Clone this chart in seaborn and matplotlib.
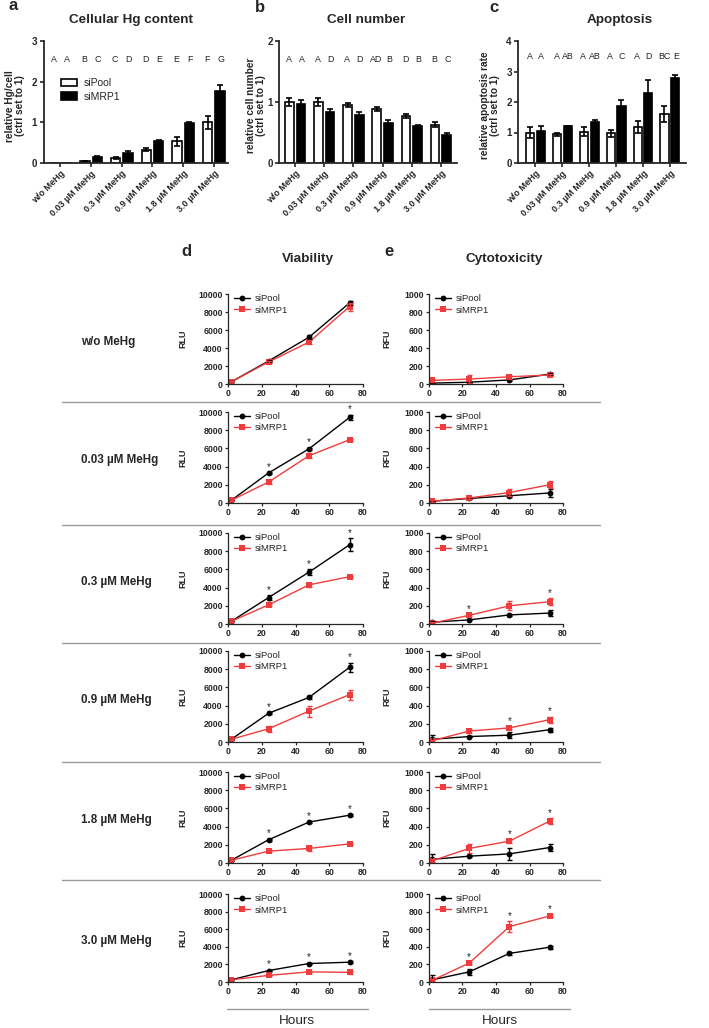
import numpy as np
import pandas as pd
import matplotlib
matplotlib.use('Agg')
import matplotlib.pyplot as plt
import seaborn as sns
from matplotlib.lines import Line2D

sns.set_theme(style='ticks')
plt.rcParams['font.family'] = ['Liberation Sans', 'DejaVu Sans']

W, H = 709, 1028
RED = '#f03c3c'

# ---------------- data: bar panels ----------------
treatments = ['w/o MeHg', '0.03 µM MeHg', '0.3 µM MeHg', '0.9 µM MeHg', '1.8 µM MeHg', '3.0 µM MeHg']
groups = ['siPool', 'siMRP1']

hg_pool = [0.0, 0.05, 0.12, 0.33, 0.53, 1.00]
hg_pool_err = [0.0, 0.01, 0.02, 0.03, 0.10, 0.16]
hg_mrp = [0.0, 0.14, 0.25, 0.54, 0.98, 1.78]
hg_mrp_err = [0.0, 0.02, 0.05, 0.03, 0.02, 0.13]
hg_letters_pool = ['A', 'B', 'C', 'D', 'E', 'F']
hg_letters_mrp = ['A', 'C', 'D', 'E', 'F', 'G']

cn_pool = [1.00, 1.00, 0.95, 0.89, 0.77, 0.63]
cn_pool_err = [0.07, 0.07, 0.03, 0.03, 0.03, 0.04]
cn_mrp = [0.97, 0.83, 0.79, 0.66, 0.60, 0.46]
cn_mrp_err = [0.07, 0.06, 0.04, 0.04, 0.03, 0.04]
cn_letters_pool = ['A', 'A', 'A', 'AD', 'D', 'B']
cn_letters_mrp = ['A', 'D', 'D', 'B', 'B', 'C']

ap_pool = [1.00, 0.94, 1.03, 0.97, 1.19, 1.61]
ap_pool_err = [0.17, 0.06, 0.14, 0.12, 0.20, 0.26]
ap_mrp = [1.05, 1.20, 1.36, 1.86, 2.30, 2.78]
ap_mrp_err = [0.15, 0.02, 0.05, 0.22, 0.42, 0.09]
ap_letters_pool = ['A', 'A', 'A', 'A', 'A', 'BC']
ap_letters_mrp = ['A', 'AB', 'AB', 'C', 'D', 'E']

# ---------------- data: time courses ----------------
hours = [2, 24, 48, 72]

via_pool = [[250, 2550, 5200, 9000], [300, 3300, 5950, 9400], [300, 2900, 5700, 8700],
            [300, 3150, 4900, 8200], [300, 2550, 4500, 5250], [250, 1300, 2100, 2250]]
via_pool_err = [[50, 100, 250, 200], [50, 100, 100, 300], [50, 250, 300, 700],
                [50, 100, 200, 500], [50, 100, 100, 100], [50, 100, 100, 100]]
via_mrp = [[250, 2450, 4650, 8600], [300, 2300, 5200, 6950], [300, 2100, 4300, 5200],
           [300, 1450, 3400, 5200], [300, 1300, 1600, 2100], [250, 750, 1150, 1100]]
via_mrp_err = [[50, 150, 200, 450], [50, 250, 300, 100], [50, 100, 200, 100],
               [50, 300, 600, 550], [50, 100, 300, 100], [50, 80, 100, 150]]
via_stars = [[0, 0, 0, 0], [0, 1, 1, 1], [0, 1, 1, 1], [0, 1, 0, 1], [0, 1, 1, 1], [0, 1, 1, 1]]

cyt_pool = [[10, 20, 45, 110], [20, 50, 80, 110], [20, 45, 100, 120],
            [30, 60, 75, 135], [40, 75, 100, 170], [25, 115, 325, 395]]
cyt_pool_err = [[5, 5, 10, 10], [5, 5, 10, 40], [15, 5, 10, 30],
                [50, 5, 30, 20], [60, 10, 65, 35], [50, 30, 20, 15]]
cyt_mrp = [[40, 55, 80, 100], [20, 55, 115, 200], [10, 95, 200, 245],
           [15, 120, 155, 245], [25, 160, 240, 460], [20, 215, 630, 750]]
cyt_mrp_err = [[15, 40, 20, 15], [10, 15, 40, 40], [10, 10, 50, 40],
               [10, 20, 15, 35], [15, 45, 15, 30], [15, 10, 60, 15]]
cyt_stars = [[0, 0, 0, 0], [0, 0, 0, 0], [0, 1, 0, 1], [0, 0, 1, 1], [0, 0, 1, 1], [0, 1, 1, 1]]

row_labels = ['w/o MeHg', '0.03 µM MeHg', '0.3 µM MeHg', '0.9 µM MeHg', '1.8 µM MeHg', '3.0 µM MeHg']

fig = plt.figure(figsize=(W / 100, H / 100), dpi=100)


def pax(l, t, r, b):
    return fig.add_axes([l / W, 1 - b / H, (r - l) / W, (b - t) / H])


def ftext(x, y, s, **kw):
    fig.text(x / W, 1 - y / H, s, **kw)


def hline(x0, x1, y, color='#9a9a9a', lw=1.0):
    fig.add_artist(Line2D([x0 / W, x1 / W], [1 - y / H, 1 - y / H], color=color, lw=lw,
                          transform=fig.transFigure))


def bar_panel(ax, pool, pool_err, mrp, mrp_err, ymax, lp, lm, ly, ylabel, xlim, ylab_x, legend):
    df = pd.DataFrame({'treatment': treatments * 2,
                       'group': ['siPool'] * 6 + ['siMRP1'] * 6,
                       'value': pool + mrp})
    sns.barplot(data=df, x='treatment', y='value', hue='group', hue_order=groups,
                palette={'siPool': 'white', 'siMRP1': 'black'}, edgecolor='black',
                linewidth=1.2, gap=0.25, errorbar=None, legend=legend, ax=ax)
    x = np.arange(6)
    for xs, vals, errs in [(x - 0.2, pool, pool_err), (x + 0.2, mrp, mrp_err)]:
        for xi, v, e in zip(xs, vals, errs):
            if e > 0:
                ax.errorbar(xi, v, yerr=e, fmt='none', ecolor='black', elinewidth=1.2,
                            capsize=2.2, capthick=1.2)
    for i in range(6):
        ax.text(i - 0.22, ly, lp[i], ha='center', va='center', fontsize=6.4, color='#222222')
        ax.text(i + 0.22, ly, lm[i], ha='center', va='center', fontsize=6.4, color='#222222')
    ax.set_xlim(*xlim)
    ax.set_ylim(0, ymax)
    ax.set_yticks(range(0, ymax + 1))
    ax.set_xlabel('')
    ax.set_ylabel(ylabel, fontsize=7.3, fontweight='bold', linespacing=1.0)
    ax.yaxis.set_label_coords(ylab_x, 0.47)
    ax.set_xticks(range(6))
    ax.set_xticklabels(treatments, rotation=45, ha='right', rotation_mode='anchor',
                       fontsize=6.5, fontweight='bold')
    for lab in ax.get_yticklabels():
        lab.set_fontweight('bold')
        lab.set_fontsize(7)
    ax.tick_params(axis='both', length=3, width=1.2, pad=1.5)
    for s in ['top', 'right']:
        ax.spines[s].set_visible(False)
    for s in ['left', 'bottom']:
        ax.spines[s].set_linewidth(1.3)
    if legend:
        h, l = ax.get_legend_handles_labels()
        ax.legend(h, l, loc='upper left', bbox_to_anchor=(0.07, 0.73), frameon=False,
                  fontsize=7.5, handlelength=1.6, handleheight=0.8, labelspacing=0.35,
                  borderaxespad=0, handletextpad=0.6)


# ---------------- top bar panels ----------------
axA = pax(43.5, 41, 228, 163)
bar_panel(axA, hg_pool, hg_pool_err, hg_mrp, hg_mrp_err, 3, hg_letters_pool, hg_letters_mrp,
          2.55, 'relative Hg/cell\n(ctrl set to 1)', (-0.55, 5.46), -0.10, True)
axB = pax(279, 41, 457, 163)
bar_panel(axB, cn_pool, cn_pool_err, cn_mrp, cn_mrp_err, 2, cn_letters_pool, cn_letters_mrp,
          1.7, 'relative cell number\n(ctrl set to 1)', (-0.55, 5.55), -0.075, False)
axC = pax(518, 41, 686, 163)
bar_panel(axC, ap_pool, ap_pool_err, ap_mrp, ap_mrp_err, 4, ap_letters_pool, ap_letters_mrp,
          3.5, 'relative apoptosis rate\n(ctrl set to 1)', (-0.65, 5.6), -0.105, False)

ftext(13, 6, 'a', fontsize=12, fontweight='bold', ha='center', va='center')
ftext(260, 7, 'b', fontsize=12, fontweight='bold', ha='center', va='center')
ftext(494, 7, 'c', fontsize=12, fontweight='bold', ha='center', va='center')
ftext(131, 20, 'Cellular Hg content', fontsize=9.7, fontweight='bold', ha='center', va='center')
ftext(366, 20, 'Cell number', fontsize=9.7, fontweight='bold', ha='center', va='center')
ftext(620, 20, 'Apoptosis', fontsize=9.7, fontweight='bold', ha='center', va='center')

# ---------------- time-course panels ----------------
ftext(186, 252, 'd', fontsize=12, fontweight='bold', ha='center', va='center')
ftext(308, 259, 'Viability', fontsize=9.7, fontweight='bold', ha='center', va='center')
ftext(389, 252, 'e', fontsize=12, fontweight='bold', ha='center', va='center')
ftext(504, 259, 'Cytotoxicity', fontsize=9.7, fontweight='bold', ha='center', va='center')

row_tops = [294, 412, 533, 651, 772, 894]
row_bots = [384, 503, 624, 742, 863, 982]
separators = [402, 525, 643, 762, 880]


def line_panel(ax, pool, pool_err, mrp, mrp_err, stars, ymax, ystep, ylabel, ylab_x):
    df = pd.DataFrame({'Hours': hours * 2,
                       'group': ['siPool'] * 4 + ['siMRP1'] * 4,
                       'value': pool + mrp})
    sns.lineplot(data=df, x='Hours', y='value', hue='group', style='group', hue_order=groups,
                 style_order=groups, palette={'siPool': 'black', 'siMRP1': RED},
                 markers={'siPool': 'o', 'siMRP1': 's'}, dashes=False, markersize=4.2,
                 markeredgewidth=0, linewidth=1.0, ax=ax)
    ax.errorbar(hours, pool, yerr=pool_err, fmt='none', ecolor='black', elinewidth=1.0,
                capsize=1.8, capthick=1.0)
    ax.errorbar(hours, mrp, yerr=mrp_err, fmt='none', ecolor=RED, elinewidth=1.0,
                capsize=1.8, capthick=1.0)
    for j, s in enumerate(stars):
        if s:
            top = max(pool[j] + pool_err[j], mrp[j] + mrp_err[j])
            ax.text(hours[j], top + 0.06 * ymax, '*', ha='center', va='center', fontsize=7,
                    color='#222222')
    ax.set_xlim(0, 80)
    ax.set_ylim(0, ymax)
    ax.set_xticks([0, 20, 40, 60, 80])
    ax.set_yticks(np.arange(0, ymax + 1, ystep))
    ax.set_xlabel('')
    ax.set_ylabel(ylabel, fontsize=6.5, fontweight='bold')
    ax.yaxis.set_label_coords(ylab_x, 0.5)
    for lab in ax.get_xticklabels() + ax.get_yticklabels():
        lab.set_fontweight('bold')
        lab.set_fontsize(6.3)
    ax.tick_params(axis='both', length=2.5, width=0.9, pad=1.2)
    for s in ['top', 'right']:
        ax.spines[s].set_visible(False)
    for s in ['left', 'bottom']:
        ax.spines[s].set_linewidth(0.9)
    h, l = ax.get_legend_handles_labels()
    ax.legend(h, l, loc='upper left', bbox_to_anchor=(0.02, 1.04), frameon=False, fontsize=6.8,
              handlelength=1.6, labelspacing=0.25, borderaxespad=0, handletextpad=0.5)


for r in range(6):
    axd = pax(228, row_tops[r], 363, row_bots[r])
    line_panel(axd, via_pool[r], via_pool_err[r], via_mrp[r], via_mrp_err[r], via_stars[r],
               10000, 2000, 'RLU', -0.30)
    axe = pax(429, row_tops[r], 563, row_bots[r])
    line_panel(axe, cyt_pool[r], cyt_pool_err[r], cyt_mrp[r], cyt_mrp_err[r], cyt_stars[r],
               1000, 200, 'RFU', -0.28)
    ftext(81, (row_tops[r] + row_bots[r]) / 2 + 3, row_labels[r], fontsize=8.4,
          fontweight='bold', ha='left', va='center')

for y in separators:
    hline(62, 600, y)

hline(227, 368, 1009)
hline(429, 570, 1009)
ftext(297, 1021, 'Hours', fontsize=9.7, ha='center', va='center')
ftext(500, 1021, 'Hours', fontsize=9.7, ha='center', va='center')

fig.savefig('out.png', dpi=100)
